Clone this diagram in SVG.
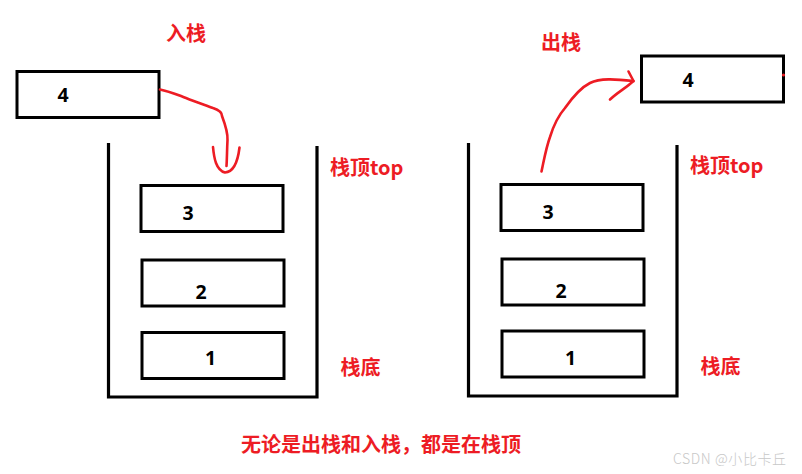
<svg xmlns="http://www.w3.org/2000/svg" width="802" height="474" viewBox="0 0 802 474">
<style>
.box{fill:#fff;stroke:#000;stroke-width:3}
.wall{fill:none;stroke:#000;stroke-width:3.2}
.num{font-family:"Noto Sans","Liberation Sans",sans-serif;font-weight:bold;font-size:19.5px;fill:#000;text-anchor:middle}
.lbl{font-family:"Noto Sans CJK SC","Noto Sans",sans-serif;font-weight:bold;font-size:20px;fill:#ED1C24}
.arrow{fill:none;stroke:#ED1C24;stroke-width:2.6;stroke-linecap:round;stroke-linejoin:round}
.wm{font-family:"Noto Sans CJK SC","Noto Sans",sans-serif;font-size:14px;letter-spacing:0.6px;fill:#c8c8c8;font-weight:300}
</style>
<rect width="802" height="474" fill="#fff"/>
<g id="left-stack">
<path class="wall" d="M108.5,143 V397 H317 V146"/>
</g>
<g id="left-box4"><rect class="box" x="17" y="71.5" width="142" height="46"/><text class="num" x="63" y="101.5">4</text></g>
<g id="left-box3"><rect class="box" x="141" y="185.5" width="142" height="46"/><text class="num" x="188" y="220">3</text></g>
<g id="left-box2"><rect class="box" x="142" y="260" width="142" height="46"/><text class="num" x="201" y="298.5">2</text></g>
<g id="left-box1"><rect class="box" x="142" y="332.5" width="142" height="46"/><text class="num" x="210.5" y="365">1</text></g>
<g id="right-stack">
<path class="wall" d="M468.5,143 V396 H677 V145"/>
</g>
<g id="right-box4"><rect class="box" x="641.5" y="56" width="142" height="46"/><text class="num" x="688" y="87">4</text><circle cx="783.5" cy="75" r="1.6" fill="#ED1C24"/></g>
<g id="right-box3"><rect class="box" x="501" y="184.5" width="142" height="46"/><text class="num" x="548" y="218.5">3</text></g>
<g id="right-box2"><rect class="box" x="502" y="259" width="142" height="46"/><text class="num" x="561" y="298">2</text></g>
<g id="right-box1"><rect class="box" x="502" y="331" width="142" height="46"/><text class="num" x="570.5" y="364.5">1</text></g>
<g id="labels">
<text class="lbl" x="166" y="41">入栈</text>
<text class="lbl" x="541" y="50">出栈</text>
<text class="lbl" x="330" y="174.5">栈顶top</text>
<text class="lbl" x="690" y="173">栈顶top</text>
<text class="lbl" x="340.5" y="375">栈底</text>
<text class="lbl" x="700.5" y="374">栈底</text>
<text class="lbl" x="241" y="452">无论是出栈和入栈，都是在栈顶</text>
<text class="wm" x="673" y="464">CSDN @小比卡丘</text>
</g>
<g id="connectors">
<path class="arrow" d="M160,89.5 C172,92 178,95 186,98 C196,102 205,105 213,108 C219,110 222,112 222,116 C225,124 228,132 227.5,140 C227,150 227,158 226.5,166"/>
<path class="arrow" d="M213,147 C214,158 216,170 225,172.5 C234,172 238,160 239.5,147.5"/>
<path class="arrow" d="M541.5,171.5 C544,160 546,148 550,137 C554,124 558,116 565,108 C572,98 580,88 590,83 C600,78 615,79 633.5,81"/>
<path class="arrow" d="M628.5,71.5 L633.5,81 C626,88 618,92 610,99.5"/>
</g>
</svg>
